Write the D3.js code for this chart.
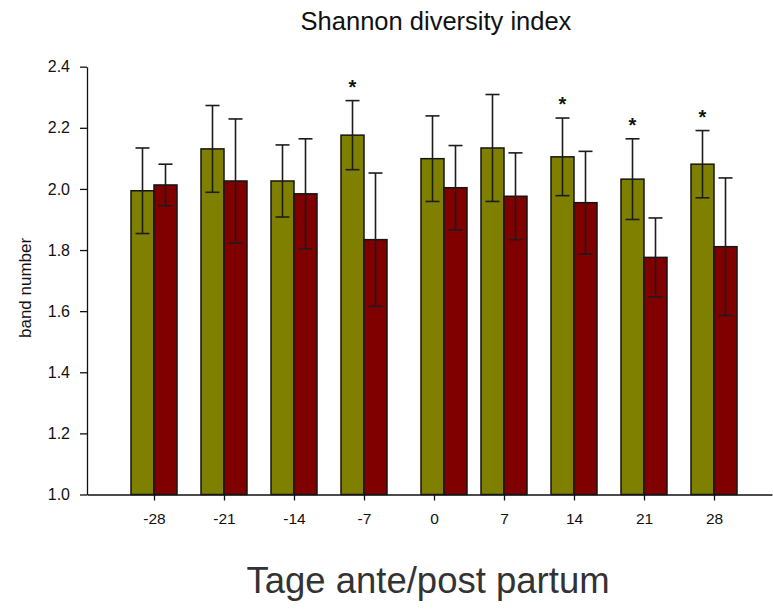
<!DOCTYPE html>
<html>
<head>
<meta charset="utf-8">
<script src="https://cdn.jsdelivr.net/npm/d3@7"></script>
<style>
  html, body { margin: 0; padding: 0; background: #fff; }
  svg { display: block; font-family: "Liberation Sans", Arial, Helvetica, sans-serif; }
</style>
</head>
<body>
<svg id="chart" width="773" height="612"></svg>
<script>
// Sampling days relative to parturition (tick labels) and the day each group was plotted at
const tickDays = [-28, -21, -14, -7, 0, 7, 14, 21, 28];
const sampleDays = [-28, -21, -14, -7, 1, 7, 14, 21, 28];

// Group 1 (olive): mean Shannon index and standard deviation
const groupAMean = [1.994, 2.131, 2.026, 2.176, 2.099, 2.134, 2.105, 2.032, 2.081];
const groupASd   = [0.140, 0.142, 0.118, 0.113, 0.140, 0.175, 0.127, 0.132, 0.110];

// Group 2 (dark red): mean Shannon index and standard deviation
const groupBMean = [2.013, 2.026, 1.984, 1.834, 2.004, 1.976, 1.955, 1.776, 1.811];
const groupBSd   = [0.068, 0.203, 0.180, 0.218, 0.138, 0.142, 0.168, 0.129, 0.225];

// Significant difference between the groups on that day
const significant = [false, false, false, true, false, false, true, true, true];

const yTicks = [1.0, 1.2, 1.4, 1.6, 1.8, 2.0, 2.2, 2.4];

const colorA = "#808000";
const colorB = "#800000";

const svg = d3.select("#chart");

const x = d3.scaleLinear().domain([-34.7, 33.8]).range([87, 772]);
const y = d3.scaleLinear().domain([1.0, 2.4]).range([494.5, 66.7]);
const barW = 23;

// Axes (plain hyphen for negative day labels)
const xAxis = svg.append("g")
  .attr("transform", `translate(0,${y(1.0)})`)
  .call(d3.axisBottom(x).tickValues(tickDays).tickFormat(d => String(d))
    .tickSize(6).tickSizeOuter(0).tickPadding(12));
xAxis.selectAll("text").attr("font-size", 15.5).attr("fill", "#111")
  .attr("font-family", "Liberation Sans, Arial, sans-serif");

const yAxis = svg.append("g")
  .attr("transform", `translate(${x.range()[0]},0)`)
  .call(d3.axisLeft(y).tickValues(yTicks).tickFormat(d3.format(".1f"))
    .tickSize(7).tickSizeOuter(0).tickPadding(10));
yAxis.selectAll("text").attr("font-size", 16).attr("fill", "#111")
  .attr("font-family", "Liberation Sans, Arial, sans-serif");

[xAxis, yAxis].forEach(g => {
  g.select(".domain").attr("stroke", "#111").attr("stroke-width", 1.3);
  g.selectAll(".tick line").attr("stroke", "#111").attr("stroke-width", 1.3);
});

// Bars and error bars
const rows = sampleDays.map((d, i) => ({
  day: d, aM: groupAMean[i], aS: groupASd[i], bM: groupBMean[i], bS: groupBSd[i], sig: significant[i]
}));

const series = [
  { key: "a", color: colorA, off: -barW, mean: r => r.aM, sd: r => r.aS },
  { key: "b", color: colorB, off: 0, mean: r => r.bM, sd: r => r.bS }
];

const plot = svg.append("g");

series.forEach(s => {
  plot.selectAll(`rect.bar-${s.key}`)
    .data(rows)
    .join("rect")
    .attr("class", `bar-${s.key}`)
    .attr("x", r => x(r.day) + s.off)
    .attr("width", barW)
    .attr("y", r => y(s.mean(r)))
    .attr("height", r => y(1.0) - y(s.mean(r)))
    .attr("fill", s.color)
    .attr("stroke", "#151515")
    .attr("stroke-width", 1.5);
});

series.forEach(s => {
  const eb = plot.selectAll(`g.err-${s.key}`)
    .data(rows)
    .join("g")
    .attr("class", `err-${s.key}`)
    .attr("stroke", "#1c1c1c")
    .attr("stroke-width", 1.6);
  const cx = r => x(r.day) + s.off + barW / 2;
  eb.append("line")
    .attr("x1", cx).attr("x2", cx)
    .attr("y1", r => y(s.mean(r) + s.sd(r)))
    .attr("y2", r => y(s.mean(r) - s.sd(r)));
  eb.append("line")
    .attr("x1", r => cx(r) - 7).attr("x2", r => cx(r) + 7)
    .attr("y1", r => y(s.mean(r) + s.sd(r)))
    .attr("y2", r => y(s.mean(r) + s.sd(r)));
  eb.append("line")
    .attr("x1", r => cx(r) - 7).attr("x2", r => cx(r) + 7)
    .attr("y1", r => y(s.mean(r) - s.sd(r)))
    .attr("y2", r => y(s.mean(r) - s.sd(r)));
});

// Significance markers above group 1
plot.selectAll("text.sig")
  .data(rows.filter(r => r.sig))
  .join("text")
  .attr("class", "sig")
  .attr("x", r => x(r.day) - barW / 2)
  .attr("y", r => y(r.aM + r.aS) - 7)
  .attr("text-anchor", "middle")
  .attr("font-size", 20)
  .attr("font-weight", "bold")
  .attr("fill", "#111")
  .text("*");

// Titles
svg.append("text")
  .attr("x", 436).attr("y", 29.5)
  .attr("text-anchor", "middle")
  .attr("font-size", 25.5)
  .attr("fill", "#111")
  .text("Shannon diversity index");

svg.append("text")
  .attr("transform", "translate(31,338) rotate(-90)")
  .attr("text-anchor", "start")
  .attr("font-size", 17)
  .attr("fill", "#111")
  .text("band number");

svg.append("text")
  .attr("x", 428).attr("y", 593)
  .attr("text-anchor", "middle")
  .attr("font-size", 36.5)
  .attr("fill", "#333")
  .text("Tage ante/post partum");
</script>
</body>
</html>
